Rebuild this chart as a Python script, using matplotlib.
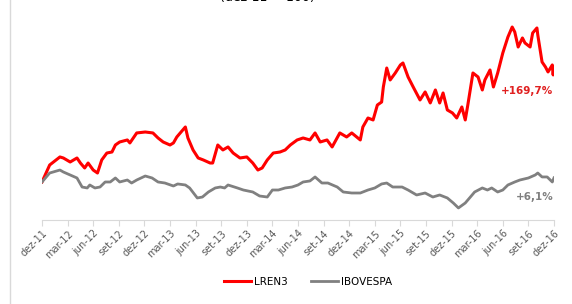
import matplotlib
matplotlib.use("Agg")
import matplotlib.pyplot as plt
from matplotlib.lines import Line2D

# months since dez-11 and cumulative return (%)
lren3_m = [0, 0.9, 2.1, 2.5, 3.3, 4.1, 4.5, 5.0, 5.4, 6.0,
           6.5, 7.0, 7.6, 8.2, 8.6, 9.1, 10.0, 10.3, 11.1, 12.1,
           13.0, 13.6, 14.2, 15.0, 15.4, 15.8, 16.5, 16.8, 17.1, 17.7,
           18.3, 18.9, 19.7, 20.0, 20.6, 21.2, 21.8, 22.4, 23.2, 24.0,
           24.7, 25.3, 25.8, 26.4, 27.1, 27.9, 28.5, 29.1, 29.9, 30.6,
           31.4, 32.0, 32.6, 33.4, 34.0, 34.9, 35.7, 36.3, 37.3, 37.6,
           38.2, 38.8, 39.3, 39.8, 40.0, 40.4, 40.8, 41.4, 42.0, 42.3,
           42.9, 43.5, 44.3, 44.9, 45.5, 46.1, 46.6, 47.0, 47.5, 48.1,
           48.6, 49.2, 49.6, 49.9, 50.5, 51.1, 51.6, 51.9, 52.5, 52.9,
           53.4, 54.0, 54.6, 55.1, 55.4, 55.8, 56.3, 56.6, 57.2, 57.5,
           58.0, 58.1, 58.6, 59.0, 59.3, 59.8, 59.9, 60.0]
lren3_v = [0, 25, 36.8, 35.3, 29.4, 35.3, 27.9, 20.6, 27.9, 17.6,
           13.2, 32.4, 42.6, 44.1, 54.4, 58.8, 61.8, 57.4, 72.1, 73.5,
           72.1, 64.7, 58.8, 54.4, 57.4, 66.2, 76.5, 80.9, 64.7, 47.1,
           35.3, 32.4, 27.9, 27.9, 54.4, 47.1, 51.5, 42.6, 35.3, 36.8,
           27.9, 17.6, 20.6, 32.4, 42.6, 44.1, 47.1, 54.4, 61.8, 64.7,
           61.8, 72.1, 58.8, 61.8, 51.5, 72.1, 66.2, 72.1, 61.8, 80.9,
           94.1, 91.2, 113.2, 117.6, 139.7, 167.6, 150, 160.3, 172.1, 175,
           154.4, 139.7, 120.6, 132.4, 116.2, 135.3, 116.2, 130.9, 105.9, 101.5,
           94.1, 110.3, 91.2, 113.2, 160.3, 154.4, 135.3, 150, 164.7, 139.7,
           160.3, 189.7, 213.2, 227.9, 220.6, 198.5, 211.8, 204.4, 198.5, 219.1,
           226.5, 216.2, 176.5, 169.1, 161.8, 172.1, 157.4, 169.7]

ibov_m = [0, 0.9, 2.1, 2.5, 3.3, 4.1, 4.7, 5.3, 5.6, 6.2,
          6.8, 7.4, 8.0, 8.6, 9.1, 10.0, 10.5, 11.1, 12.1, 12.9,
          13.6, 14.4, 15.4, 15.9, 16.8, 17.3, 18.2, 18.8, 19.5, 20.3,
          20.9, 21.4, 21.8, 22.9, 23.6, 24.7, 25.5, 26.4, 27.0, 27.7,
          28.5, 29.3, 30.0, 30.6, 31.4, 32.0, 32.8, 33.5, 34.6, 35.3,
          36.3, 37.3, 38.2, 39.0, 39.8, 40.4, 41.1, 42.2, 42.9, 43.9,
          44.9, 45.8, 46.6, 47.5, 48.2, 48.8, 49.6, 50.2, 50.7, 51.6,
          52.2, 52.7, 53.4, 54.0, 54.6, 55.4, 56.0, 57.0, 57.8, 58.1,
          58.6, 59.2, 59.8, 60.0]
ibov_v = [0, 13.2, 17.6, 14.7, 10.3, 5.9, -7.4, -8.8, -4.4, -8.8,
          -7.4, 0, 0, 5.9, 0, 2.9, -1.5, 2.9, 8.8, 5.9,
          0, -1.5, -5.9, -2.9, -4.4, -8.8, -23.5, -22.1, -14.7, -8.8,
          -7.4, -8.8, -4.4, -8.8, -11.8, -14.7, -20.6, -22.1, -11.8, -11.8,
          -8.8, -7.4, -4.4, 0, 1.5, 7.4, -1.5, -1.5, -7.4, -14.7,
          -16.2, -16.2, -11.8, -8.8, -2.9, -1.5, -7.4, -7.4, -11.8, -19.1,
          -16.2, -22.1, -19.1, -23.5, -30.9, -38.2, -30.9, -22.1, -14.7, -8.8,
          -11.8, -8.8, -14.7, -11.8, -4.4, 0, 2.9, 5.9, 10.3, 13.2,
          7.4, 7.4, 0, 6.1]

tick_labels = ["dez-11", "mar-12", "jun-12", "set-12", "dez-12", "mar-13", "jun-13",
               "set-13", "dez-13", "mar-14", "jun-14", "set-14", "dez-14", "mar-15",
               "jun-15", "set-15", "dez-15", "mar-16", "jun-16", "set-16", "dez-16"]

red = '#FF0000'
gray = '#808080'

fig = plt.figure(figsize=(5.72, 3.04), dpi=100)
ax = fig.add_axes([42/572, 84/304, 512/572, 200/304])

ax.plot(lren3_m, lren3_v, color=red, lw=2.2, label='LREN3', solid_joinstyle='round')
ax.plot(ibov_m, ibov_v, color=gray, lw=2.0, label='IBOVESPA', solid_joinstyle='round')

ax.set_xlim(0, 60)
ax.set_ylim(-55.9, 238.2)
ax.set_xticks(range(0, 61, 3))
ax.set_xticklabels(tick_labels, rotation=45, ha='right', rotation_mode='anchor',
                   fontsize=7, color='#595959')
ax.set_yticks([])
for s in ['top', 'right', 'left']:
    ax.spines[s].set_visible(False)
ax.spines['bottom'].set_color('#d9d9d9')
ax.tick_params(axis='x', length=4, color='#d9d9d9', pad=2)

ax.text(59.9, 134, '+169,7%', color='#E02020', fontsize=7.5, fontweight='bold',
        ha='right', va='center')
ax.text(59.9, -22, '+6,1%', color=gray, fontsize=7.5, fontweight='bold',
        ha='right', va='center')

fig.legend(loc='center', bbox_to_anchor=(0.538, 1 - 282/304), ncol=2, frameon=False,
           fontsize=7.5, handlelength=2.6, columnspacing=2.2, handletextpad=0.3)

# partially visible title and chart border
fig.text(0.468, 1 - 1/304, '(dez-11 = 100)', ha='center', va='baseline', fontsize=9)
fig.add_artist(Line2D([9.5/572, 9.5/572], [0, 1], color='#d9d9d9', lw=1))

fig.savefig('out.png', dpi=100)
